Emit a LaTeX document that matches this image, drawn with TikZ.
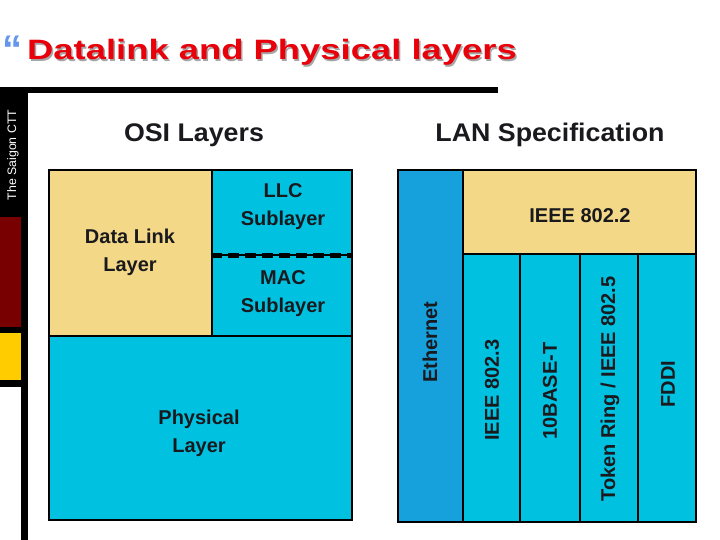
\documentclass[tikz,border=0pt]{standalone}
\usepackage{fontspec}
\setmainfont{Liberation Sans}
\definecolor{tanbox}{RGB}{243,216,135}
\definecolor{cyanbox}{RGB}{0,194,224}
\definecolor{ethblue}{RGB}{22,160,220}
\definecolor{titlered}{RGB}{232,0,10}
\definecolor{quoteblue}{RGB}{100,150,235}
\definecolor{bardarkred}{RGB}{120,0,0}
\definecolor{baryellow}{RGB}{255,204,0}
\definecolor{ink}{RGB}{25,25,30}
\tikzset{
  layerbox/.style={draw=black,line width=1.2pt,rectangle,inner sep=0pt},
  boxtext/.style={font=\fontsize{20}{28}\selectfont\bfseries,text=ink,align=center,inner sep=0pt},
  sidetext/.style={boxtext,rotate=90},
  heading/.style={font=\fontsize{25.5}{30}\selectfont\bfseries,text=ink,inner sep=0pt},
  titletext/.style={font=\fontsize{28}{32}\selectfont\bfseries,inner sep=0pt,anchor=base west}
}
\begin{document}
\begin{tikzpicture}[x=1pt,y=-1pt]
\useasboundingbox (0,0) rectangle (720,540);

\fill[black] (0,87) rectangle (498,93);
\fill[black] (0,87) rectangle (28,387);
\fill[black] (21,387) rectangle (28,540);
\fill[bardarkred] (0,217) rectangle (21,327);
\fill[baryellow] (0,333) rectangle (21,380);
\node[rotate=90,text=white,font=\fontsize{12.3}{14}\selectfont,inner sep=0pt] at (13,155) (saigon) {The Saigon CTT};

\node[text=quoteblue,font=\fontsize{40}{44}\selectfont\bfseries,inner sep=0pt,anchor=north west] at (2,36) (quote) {“};
\node[titletext,text=black!35] at (28.5,61.5) (titleshadow) {\scalebox{1.3}[1]{Datalink and Physical layers}};
\node[titletext,text=titlered] at (27,60) (title) {\scalebox{1.3}[1]{Datalink and Physical layers}};

\node[heading] at (194,135) (osi) {\scalebox{1.05}[1]{OSI Layers}};
\node[heading] at (550,135) (lan) {\scalebox{1.05}[1]{LAN Specification}};

\node[layerbox,fill=tanbox,minimum width=163pt,minimum height=166pt] at (130.5,253) (dll) {};
\node[layerbox,fill=cyanbox,minimum width=140pt,minimum height=85pt] at (282,212.5) (llc) {};
\node[layerbox,fill=cyanbox,minimum width=140pt,minimum height=81pt] at (282,295.5) (mac) {};
\draw[line width=5pt,dash pattern=on 11pt off 6pt] (llc.south west) -- (llc.south east);
\node[layerbox,fill=cyanbox,minimum width=303pt,minimum height=184pt] at (200.5,428) (phy) {};

\node[boxtext] at (130,252) (dlltext) {Data Link\\Layer};
\node[boxtext] at (283,207) (llctext) {LLC\\Sublayer};
\node[boxtext] at (283,294) (mactext) {MAC\\Sublayer};
\node[boxtext] at (199,433) (phytext) {Physical\\Layer};

\node[layerbox,fill=ethblue,minimum width=65pt,minimum height=352pt] at (430.5,346) (eth) {};
\node[layerbox,fill=tanbox,minimum width=233pt,minimum height=84pt] at (579.5,212) (ieee2) {};
\node[layerbox,fill=cyanbox,minimum width=57pt,minimum height=268pt] at (491.5,388) (ieee3) {};
\node[layerbox,fill=cyanbox,minimum width=60pt,minimum height=268pt] at (550,388) (base) {};
\node[layerbox,fill=cyanbox,minimum width=58pt,minimum height=268pt] at (609,388) (token) {};
\node[layerbox,fill=cyanbox,minimum width=58pt,minimum height=268pt] at (667,388) (fddi) {};

\node[boxtext] at (580,216) (ieee2text) {IEEE 802.2};
\node[sidetext] at (430,342) (ethtext) {Ethernet};
\node[sidetext] at (492,390) (ieee3text) {IEEE 802.3};
\node[sidetext] at (550,391) (basetext) {10BASE-T};
\node[sidetext] at (610,389) (tokentext) {Token Ring / IEEE 802.5};
\node[sidetext] at (668,384) (fdditext) {FDDI};

\end{tikzpicture}
\end{document}
